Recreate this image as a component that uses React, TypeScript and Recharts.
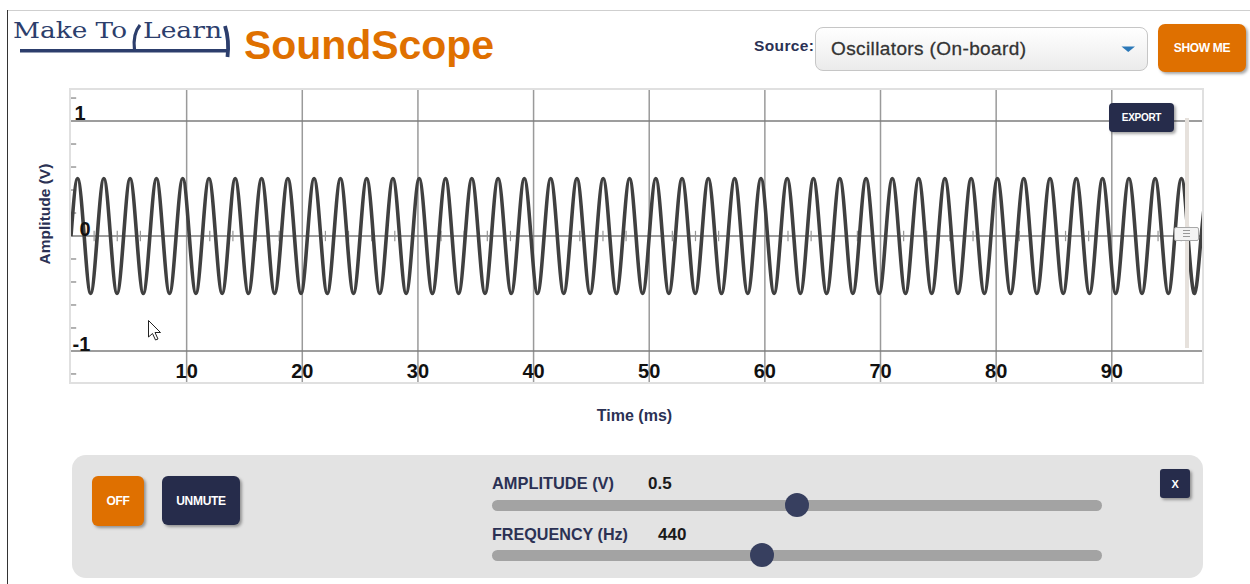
import { Line, LineChart, ReferenceLine, XAxis, YAxis } from "recharts";

// sample times (ms) of the 440 Hz tone
const crossingTimes = [
  0, 1.14, 2.27, 3.41, 4.55, 5.68, 6.82, 7.95, 9.09, 10.23, 11.36, 12.5, 13.64,
  14.77, 15.91, 17.05, 18.18, 19.32, 20.45, 21.59, 22.73, 23.86, 25.0, 26.14,
  27.27, 28.41, 29.55, 30.68, 31.82, 32.95, 34.09, 35.23, 36.36, 37.5, 38.64,
  39.77, 40.91, 42.05, 43.18, 44.32, 45.45, 46.59, 47.73, 48.86, 50.0, 51.14,
  52.27, 53.41, 54.55, 55.68, 56.82, 57.95, 59.09, 60.23, 61.36, 62.5, 63.64,
  64.77, 65.91, 67.05, 68.18, 69.32, 70.45, 71.59, 72.73, 73.86, 75.0, 76.14,
  77.27, 78.41, 79.55, 80.68, 81.82, 82.95, 84.09, 85.23, 86.36, 87.5, 88.64,
  89.77, 90.91, 92.05, 93.18, 94.32, 95.45, 96.59, 97.73,
];
const peakTimes = [
  0.57, 2.84, 5.11, 7.39, 9.66, 11.93, 14.2, 16.48, 18.75, 21.02, 23.3, 25.57,
  27.84, 30.11, 32.39, 34.66, 36.93, 39.2, 41.48, 43.75, 46.02, 48.3, 50.57,
  52.84, 55.11, 57.39, 59.66, 61.93, 64.2, 66.48, 68.75, 71.02, 73.3, 75.57,
  77.84, 80.11, 82.39, 84.66, 86.93, 89.2, 91.48, 93.75, 96.02, 98.3,
];
const troughTimes = [
  1.7, 3.98, 6.25, 8.52, 10.8, 13.07, 15.34, 17.61, 19.89, 22.16, 24.43, 26.7,
  28.98, 31.25, 33.52, 35.8, 38.07, 40.34, 42.61, 44.89, 47.16, 49.43, 51.7,
  53.98, 56.25, 58.52, 60.8, 63.07, 65.34, 67.61, 69.89, 72.16, 74.43, 76.7,
  78.98, 81.25, 83.52, 85.8, 88.07, 90.34, 92.61, 94.89, 97.16,
];
const peakVolts = 0.5;
const troughVolts = -0.5;

const timeTicks = [10, 20, 30, 40, 50, 60, 70, 80, 90];
const zeroLineTicks = [
  2, 4, 6, 8, 12, 14, 16, 18, 22, 24, 26, 28, 32, 34, 36, 38, 42, 44, 46, 48,
  52, 54, 56, 58, 62, 64, 66, 68, 72, 74, 76, 78, 82, 84, 86, 88, 92, 94, 96,
];
const voltTicks = [1, 0, -1];
const voltMinorTicks = [1.2, 0.8, 0.6, 0.4, 0.2, -0.2, -0.4, -0.6, -0.8, -1.2];

const wave = [
  ...crossingTimes.map((t) => ({ t, v: 0 })),
  ...peakTimes.map((t) => ({ t, v: peakVolts })),
  ...troughTimes.map((t) => ({ t, v: troughVolts })),
].sort((a, b) => a.t - b.t);

const SANS = "'Liberation Sans', Arial, Helvetica, sans-serif";
const SERIF = "'DejaVu Serif', 'Liberation Serif', serif";
const NAVY = "#262c4b";
const ORANGE = "#df7000";
const LABEL = "#2b3154";
const LOGO = "#2c3e6c";

// the scope prints its volt labels just inside the left edge, over the trace
const voltTickDx: Record<string, number> = { "1": 3.5, "0": 8.5, "-1": 1.5 };
const voltTickDy: Record<string, number> = { "1": -1, "0": 0, "-1": 0 };

const VoltTick = (props: any) => {
  const text = String(props.payload?.value);
  return (
    <text
      x={props.plotLeft + (voltTickDx[text] ?? 0)}
      y={props.y + (voltTickDy[text] ?? 0)}
      fill="#111"
      fontSize={20}
      fontWeight={700}
      fontFamily={SANS}
    >
      {text}
    </text>
  );
};

const timeLabel = (text: string) => (props: any) => {
  const vb = props.viewBox || {};
  return (
    <text
      x={vb.x ?? 0}
      y={(vb.y ?? 0) + (vb.height ?? 0) - 4}
      textAnchor="middle"
      fill="#111"
      fontSize={20}
      fontWeight={700}
      fontFamily={SANS}
    >
      {text}
    </text>
  );
};

const button = (
  left: number,
  top: number,
  width: number,
  height: number,
  bg: string,
  text: string,
  fontSize = 12,
  radius = 6
) => (
  <div
    style={{
      position: "absolute",
      left,
      top,
      width,
      height,
      background: bg,
      borderRadius: radius,
      boxShadow: "2px 2px 3px rgba(0,0,0,0.35)",
      color: "#fff",
      fontFamily: SANS,
      fontWeight: 700,
      fontSize,
      letterSpacing: -0.3,
      display: "flex",
      alignItems: "center",
      justifyContent: "center",
    }}
  >
    {text}
  </div>
);

const slider = (top: number, thumbX: number) => (
  <>
    <div
      style={{
        position: "absolute",
        left: 492,
        top: top - 5,
        width: 610,
        height: 11,
        borderRadius: 6,
        background: "#a3a3a3",
      }}
    />
    <div
      style={{
        position: "absolute",
        left: thumbX - 12,
        top: top - 12,
        width: 24,
        height: 24,
        borderRadius: 12,
        background: "#373f5f",
      }}
    />
  </>
);

export default function App() {
  return (
    <div
      style={{
        position: "absolute",
        left: 0,
        top: 0,
        width: 1250,
        height: 584,
        background: "#fff",
        overflow: "hidden",
      }}
    >
      {/* window frame */}
      <div style={{ position: "absolute", left: 8, top: 10, width: 1242, height: 1, background: "#cfcfcf" }} />
      <div style={{ position: "absolute", left: 7, top: 10, width: 1, height: 574, background: "#333" }} />

      {/* source picker */}
      <div
        style={{
          position: "absolute",
          left: 815,
          top: 27,
          width: 331,
          height: 42,
          border: "1px solid #c6c6c6",
          borderRadius: 8,
          background: "linear-gradient(#ffffff, #ebebeb)",
        }}
      />
      {button(1158, 24, 88, 48, ORANGE, "SHOW ME", 12, 7)}

      {/* plot frame */}
      <div
        style={{
          position: "absolute",
          left: 69,
          top: 88,
          width: 1131,
          height: 292,
          border: "2px solid #e0e0e0",
        }}
      />

      <div style={{ position: "absolute", left: 71, top: 90 }}>
        <LineChart
          width={1131}
          height={292}
          data={wave}
          margin={{ top: 0, right: 0, bottom: 0, left: 0 }}
        >
          <XAxis
            dataKey="t"
            type="number"
            domain={[0, 97.8]}
            allowDataOverflow
            hide
          />
          <YAxis
            type="number"
            domain={[-1.27, 1.27]}
            ticks={voltTicks}
            interval={0}
            mirror
            axisLine={false}
            tickLine={false}
            tick={<VoltTick plotLeft={0} />}
          />
          {timeTicks.map((t) => (
            <ReferenceLine
              key={`x${t}`}
              x={t}
              stroke="#9a9a9a"
              strokeWidth={1.5}
              label={timeLabel(String(t))}
            />
          ))}
          {voltTicks.map((v) => (
            <ReferenceLine key={`y${v}`} y={v} stroke="#7d7d7d" strokeWidth={1.5} />
          ))}
          {zeroLineTicks.map((t) => (
            <ReferenceLine
              key={`z${t}`}
              segment={[
                { x: t, y: -0.045 },
                { x: t, y: 0.045 },
              ]}
              stroke="#959595"
              strokeWidth={1.2}
            />
          ))}
          {voltMinorTicks.map((v) => (
            <ReferenceLine
              key={`m${v}`}
              segment={[
                { x: 0, y: v },
                { x: 0.45, y: v },
              ]}
              stroke="#999"
              strokeWidth={1.5}
            />
          ))}
          <Line
            dataKey="v"
            type="natural"
            stroke="#404040"
            strokeWidth={3.6}
            dot={false}
            activeDot={false}
            isAnimationActive={false}
          />
        </LineChart>
      </div>

      {/* export button and vertical trigger slider */}
      {button(1109, 103, 65, 29, NAVY, "EXPORT", 10, 4)}
      <div style={{ position: "absolute", left: 1185, top: 118, width: 4, height: 230, background: "#e6e1dc" }} />
      <div
        style={{
          position: "absolute",
          left: 1174,
          top: 227,
          width: 23,
          height: 12,
          background: "#f3f3f3",
          border: "1px solid #a8a8a8",
          borderRadius: 2,
        }}
      >
        {[3, 6, 9].map((y) => (
          <div key={y} style={{ position: "absolute", left: 8, top: y - 1, width: 7, height: 1, background: "#999" }} />
        ))}
      </div>

      {/* control panel */}
      <div
        style={{
          position: "absolute",
          left: 72,
          top: 455,
          width: 1131,
          height: 123,
          borderRadius: 14,
          background: "#e3e3e3",
        }}
      />
      {button(92, 476, 52, 50, ORANGE, "OFF")}
      {button(162, 476, 78, 49, NAVY, "UNMUTE")}
      {button(1160, 469, 30, 29, NAVY, "X", 11, 3)}
      {slider(505, 797)}
      {slider(555, 762)}

      <svg
        width={1250}
        height={584}
        style={{ position: "absolute", left: 0, top: 0, pointerEvents: "none" }}
      >
        {/* logo */}
        <g fill={LOGO}>
          <text x={13} y={37.5} fontFamily={SERIF} fontSize={22} textLength={114} lengthAdjust="spacingAndGlyphs">
            Make To
          </text>
          <text x={143} y={37.5} fontFamily={SERIF} fontSize={22} textLength={79} lengthAdjust="spacingAndGlyphs">
            Learn
          </text>
          <rect x={20} y={49} width={208} height={3.5} />
        </g>
        <path d="M140 25 Q132.5 34 134.5 50" stroke={LOGO} strokeWidth={3.2} fill="none" />
        <path d="M225 26 Q229.5 40 227.5 57" stroke={LOGO} strokeWidth={3.8} fill="none" />
        <text x={244} y={59} fill={ORANGE} fontFamily={SANS} fontWeight={700} fontSize={41} textLength={250}>
          SoundScope
        </text>

        <text x={754} y={50.5} fill={LABEL} fontFamily={SANS} fontWeight={700} fontSize={15.5} textLength={60}>
          Source:
        </text>
        <text x={831} y={55} fill="#333" fontFamily={SANS} fontSize={19} textLength={195} stroke="#333" strokeWidth={0.3}>
          Oscillators (On-board)
        </text>
        <path d="M1121.5 46.5 L1135 46.5 L1128.25 52 Z" fill="#2b78b8" />

        <text
          x={44}
          y={214}
          transform="rotate(-90 44 214)"
          textAnchor="middle"
          dominantBaseline="central"
          fill={LABEL}
          fontFamily={SANS}
          fontWeight={700}
          fontSize={15.5}
        >
          Amplitude (V)
        </text>
        <text x={634.5} y={421} textAnchor="middle" fill={LABEL} fontFamily={SANS} fontWeight={700} fontSize={16}>
          Time (ms)
        </text>

        <text x={492} y={489} fill={LABEL} fontFamily={SANS} fontWeight={700} fontSize={16.5} textLength={122} lengthAdjust="spacingAndGlyphs">
          AMPLITUDE (V)
        </text>
        <text x={648} y={489} fill="#1a1a1a" fontFamily={SANS} fontWeight={700} fontSize={17}>
          0.5
        </text>
        <text x={492} y={540} fill={LABEL} fontFamily={SANS} fontWeight={700} fontSize={16.5} textLength={136} lengthAdjust="spacingAndGlyphs">
          FREQUENCY (Hz)
        </text>
        <text x={658} y={540} fill="#1a1a1a" fontFamily={SANS} fontWeight={700} fontSize={17}>
          440
        </text>

        {/* mouse pointer left on the plot */}
        <path
          d="M148.5 320.5 L148.5 337 L152.5 333.5 L155.5 340 L158 339 L155 332.5 L160.5 332.5 Z"
          fill="#fff"
          stroke="#222"
          strokeWidth={1}
        />
      </svg>
    </div>
  );
}
